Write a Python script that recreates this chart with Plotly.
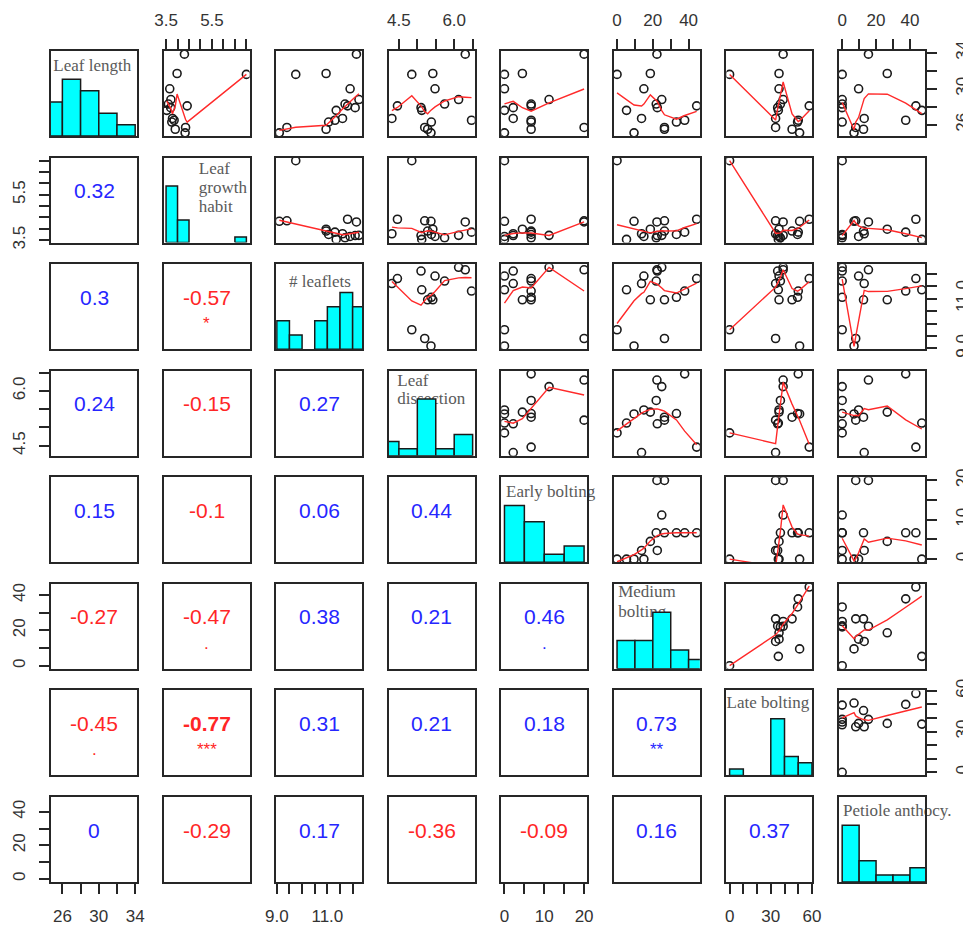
import numpy as np
import plotly.graph_objects as go

# ---------------- data (15 accessions) ----------------
var_names = ["Leaf length", "Leaf growth habit", "# leaflets", "Leaf dissection",
             "Early bolting", "Medium bolting", "Late bolting", "Petiole anthocy."]

leaf_length = [33.85, 31.7, 31.6, 30.0, 28.8, 28.1, 28.3, 27.6, 26.7, 26.5, 26.3, 25.7, 25.5, 25.1, 27.9]
growth_habit = [4.3, 3.98, 7.0, 3.66, 3.71, 4.42, 3.6, 3.53, 3.78, 3.85, 3.75, 4.35, 3.9, 4.33, 3.7]
leaflets = [12.15, 10.95, 9.75, 11.9, 12.25, 11.8, 11.7, 11.35, 11.6, 11.3, 11.05, 9.4, 10.95, 9.1, 12.1]
dissection = [6.3, 5.42, 4.85, 5.48, 6.12, 4.46, 5.74, 5.12, 4.31, 6.47, 5.38, 5.2, 5.28, 5.37, 5.1]
early_bolting = [20, 4.5, 0, 0, 11.2, 6.7, 6.7, 0, 2.2, 6.7, 6.7, 20, 6.7, 0, 2.2]
medium_bolting = [22.3, 18.6, 0, 15, 25, 44.5, 21.9, 5.3, 13.7, 37.8, 33.2, 26.5, 26.5, 9.5, 22.5]
late_bolting = [39, 36, 0, 36, 39, 58, 37, 35.5, 33.5, 50, 49.5, 33.5, 45.5, 51, 35]
petiole_anthocy = [15.5, 26.6, 0, 9.7, 0, 43.5, 0, 47, 13, 37.5, 0, 8, 12.6, 7, 0]

variables = [leaf_length, growth_habit, leaflets, dissection,
             early_bolting, medium_bolting, late_bolting, petiole_anthocy]

# histogram break points
hist_breaks = [
    [24, 26, 28, 30, 32, 34],
    [3.5, 4.0, 4.5, 5.0, 5.5, 6.0, 6.5, 7.0],
    [9.0, 9.5, 10.0, 10.5, 11.0, 11.5, 12.0, 12.5],
    [4.0, 4.5, 5.0, 5.5, 6.0, 6.5],
    [0, 5, 10, 15, 20],
    [0, 10, 20, 30, 40, 50],
    [0, 10, 20, 30, 40, 50, 60],
    [0, 10, 20, 30, 40, 50],
]

# axis ticks and labels
tick_vals = [
    [26, 28, 30, 32, 34],
    [3.5, 4.0, 4.5, 5.0, 5.5, 6.0, 6.5, 7.0],
    [9.0, 9.5, 10.0, 10.5, 11.0, 11.5, 12.0],
    [4.5, 5.0, 5.5, 6.0, 6.5],
    [0, 5, 10, 15, 20],
    [0, 10, 20, 30, 40],
    [0, 10, 20, 30, 40, 50, 60],
    [0, 10, 20, 30, 40],
]
tick_text = [
    ["26", "", "30", "", "34"],
    ["3.5", "", "", "", "5.5", "", "", ""],
    ["9.0", "", "", "", "11.0", "", ""],
    ["4.5", "", "", "6.0", ""],
    ["0", "", "10", "", "20"],
    ["0", "", "20", "", "40"],
    ["0", "", "", "30", "", "", "60"],
    ["0", "", "20", "", "40"],
]

# lower-triangle correlations and significance marks
corr_values = [
    [],
    [0.32],
    [0.3, -0.57],
    [0.24, -0.15, 0.27],
    [0.15, -0.1, 0.06, 0.44],
    [-0.27, -0.47, 0.38, 0.21, 0.46],
    [-0.45, -0.77, 0.31, 0.21, 0.18, 0.73],
    [0, -0.29, 0.17, -0.36, -0.09, 0.16, 0.37],
]
corr_marks = [
    [],
    [""],
    ["", "*"],
    ["", "", ""],
    ["", "", "", ""],
    ["", ".", "", "", "."],
    [".", "***", "", "", "", "**"],
    ["", "", "", "", "", "", ""],
]

# diagonal label lines
diag_lines = [
    ["Leaf length"],
    ["Leaf", "growth", "habit"],
    ["# leaflets"],
    ["Leaf", "dissection"],
    ["Early bolting"],
    ["Medium", "bolting"],
    ["Late bolting"],
    ["Petiole anthocy."],
]


# ---------------- R's lowess (clowess) ----------------
def r_lowess(xin, yin, f=2 / 3, nsteps=3):
    x = np.asarray(xin, float)
    y = np.asarray(yin, float)
    o = np.argsort(x, kind="stable")
    x = x[o]
    y = y[o]
    n = len(x)
    delta = 0.01 * (x[-1] - x[0])
    ns = max(2, min(n, int(f * n + 1e-7)))
    ys = np.zeros(n)
    rw = np.ones(n)
    xr = x[-1] - x[0]

    def lowest(xs, nleft, nright, userw, rwt):
        h = max(xs - x[nleft], x[nright] - xs)
        h9 = 0.999 * h
        h1 = 0.001 * h
        w = np.zeros(n)
        a = 0.0
        j = nleft
        while j < n:
            r = abs(x[j] - xs)
            if r <= h9:
                if r <= h1:
                    w[j] = 1.0
                else:
                    w[j] = (1 - (r / h) ** 3) ** 3
                if userw:
                    w[j] *= rwt[j]
                a += w[j]
            elif x[j] > xs:
                break
            j += 1
        nrt = j - 1
        if a <= 0:
            return None
        sl = slice(nleft, nrt + 1)
        w[sl] /= a
        if h > 0:
            aa = np.sum(w[sl] * x[sl])
            b = xs - aa
            c = np.sum(w[sl] * (x[sl] - aa) ** 2)
            if np.sqrt(c) > 0.001 * xr:
                b /= c
                w[sl] *= (b * (x[sl] - aa) + 1)
        return float(np.sum(w[sl] * y[sl]))

    it = 1
    while it <= nsteps + 1:
        nleft, nright, last, i = 0, ns - 1, -1, 0
        while True:
            if nright < n - 1:
                d1 = x[i] - x[nleft]
                d2 = x[nright + 1] - x[i]
                if d1 > d2:
                    nleft += 1
                    nright += 1
                    continue
            v = lowest(x[i], nleft, nright, it > 1, rw)
            ys[i] = y[i] if v is None else v
            if last < i - 1:
                denom = x[i] - x[last]
                for j in range(last + 1, i):
                    alpha = (x[j] - x[last]) / denom
                    ys[j] = alpha * ys[i] + (1 - alpha) * ys[last]
            last = i
            cut = x[last] + delta
            i = last + 1
            while i < n:
                if x[i] > cut:
                    break
                if x[i] == x[last]:
                    ys[i] = ys[last]
                    last = i
                i += 1
            i = max(last + 1, i - 1)
            if last >= n - 1:
                break
        res = y - ys
        sc = np.mean(np.abs(res))
        if it > nsteps:
            break
        ar = np.abs(res)
        srt = np.sort(ar)
        m1 = n // 2
        if n % 2 == 0:
            cmad = 3 * (srt[m1] + srt[n - m1 - 1])
        else:
            cmad = 6 * srt[m1]
        if cmad < 1e-7 * sc:
            break
        c9, c1 = 0.999 * cmad, 0.001 * cmad
        rw = np.where(ar <= c1, 1.0, np.where(ar <= c9, (1 - (ar / cmad) ** 2) ** 2, 0.0))
        it += 1
    return x, ys


def hist_counts(vals, breaks):
    v = np.asarray(vals, float)
    counts = []
    for b in range(len(breaks) - 1):
        lo, hi = breaks[b], breaks[b + 1]
        if b == 0:
            counts.append(int(np.sum((v >= lo) & (v <= hi))))
        else:
            counts.append(int(np.sum((v > lo) & (v <= hi))))
    return counts


# ---------------- layout geometry ----------------
PAGE_W, PAGE_H = 971, 926
OFF = 8                      # default page margin of the html body
W, H = PAGE_W - OFF, PAGE_H - OFF
NV = 8
PW, PH = 86, 85
X0, DX = 51 - OFF, 112.57
Y0, DY = 51 - OFF, 106.57

ranges = []
for v in variables:
    lo, hi = min(v), max(v)
    d = hi - lo
    ranges.append([lo - 0.04 * d, hi + 0.04 * d])

FRAME = "#262626"
TICKFONT = dict(family="Liberation Sans, Arial", size=17, color="#333333")
SERIF = "Liberation Serif, Times New Roman, serif"
SANS = "Liberation Sans, Arial, sans-serif"
BLUE = "#2626ff"
RED = "#ff2626"

fig = go.Figure()
layout = dict(
    width=W, height=H, margin=dict(l=0, r=0, t=0, b=0, autoexpand=False),
    paper_bgcolor="white", plot_bgcolor="white", showlegend=False,
)
annotations = []


def axis_names(k):
    return ("x" if k == 1 else f"x{k}"), ("y" if k == 1 else f"y{k}")


label_pos = [
    # (xfrac, textposition, [yfracs])
    (0.48, "middle center", [0.815]),
    (0.41, "middle right", [0.854, 0.63, 0.41]),
    (0.51, "middle center", [0.78]),
    (0.1, "middle right", [0.867, 0.656]),
    (0.055, "middle right", [0.815]),
    (0.05, "middle right", [0.893, 0.658]),
    (0.002, "middle right", [0.84]),
    (0.047, "middle right", [0.824]),
]

for r in range(NV):
    for c in range(NV):
        k = r * NV + c + 1
        xr_, yr_ = axis_names(k)
        x0 = (X0 + c * DX) / W
        x1 = (X0 + c * DX + PW) / W
        ytop = Y0 + r * DY
        ybot = ytop + PH
        yd = [1 - ybot / H, 1 - ytop / H]
        xrange_ = ranges[c]
        yrange_ = [0, 1.5] if r == c else ranges[r]
        xax = dict(domain=[x0, x1], anchor=yr_, range=xrange_, showline=True, mirror=True,
                   linecolor=FRAME, linewidth=1.7, showgrid=False, zeroline=False,
                   showticklabels=False, ticks="", fixedrange=True, automargin=False)
        yax = dict(domain=yd, anchor=xr_, range=yrange_, showline=True, mirror=True,
                   linecolor=FRAME, linewidth=1.7, showgrid=False, zeroline=False,
                   showticklabels=False, ticks="", fixedrange=True, automargin=False)
        tk = dict(ticks="outside", ticklen=10, tickwidth=1.5, tickcolor=FRAME,
                  showticklabels=True, tickfont=TICKFONT)
        if r == 0 and c % 2 == 1:
            xax.update(tk, side="top", tickvals=tick_vals[c], ticktext=tick_text[c],
                       ticklabelstandoff=6)
        if r == NV - 1 and c % 2 == 0:
            xax.update(tk, side="bottom", tickvals=tick_vals[c], ticktext=tick_text[c],
                       ticklabelstandoff=8)
        if c == 0 and r % 2 == 1:
            yax.update(tk, side="left", tickvals=tick_vals[r], ticktext=tick_text[r],
                       tickangle=-90, ticklabelstandoff=7)
        if c == NV - 1 and r % 2 == 0:
            yax.update(tk, side="right", tickvals=tick_vals[r], ticktext=tick_text[r],
                       tickangle=-90, ticklabelstandoff=11)
        layout["xaxis" if k == 1 else f"xaxis{k}"] = xax
        layout["yaxis" if k == 1 else f"yaxis{k}"] = yax

        if r < c:
            xv = variables[c]
            yv = variables[r]
            fig.add_trace(go.Scatter(
                x=xv, y=yv, xaxis=xr_, yaxis=yr_, mode="markers",
                marker=dict(symbol="circle-open", size=8, color="#1a1a1a",
                            line=dict(width=1.6, color="#1a1a1a")),
                hoverinfo="skip"))
            lx, ly = r_lowess(xv, yv)
            fig.add_trace(go.Scatter(
                x=lx, y=ly, xaxis=xr_, yaxis=yr_, mode="lines",
                line=dict(color="#ff2a2a", width=1.4), hoverinfo="skip"))
        elif r == c:
            lo, hi = xrange_
            xf, pos, yfs = label_pos[r]
            for line, yf in zip(diag_lines[r], yfs):
                fig.add_trace(go.Scatter(
                    x=[lo + xf * (hi - lo)], y=[yf * 1.5], xaxis=xr_, yaxis=yr_,
                    mode="text", text=[line], textposition=pos, cliponaxis=False,
                    textfont=dict(family=SERIF, size=17, color="#5a5a5a"),
                    hoverinfo="skip"))
            br = hist_breaks[r]
            cnt = hist_counts(variables[r], br)
            mx = max(cnt)
            for b in range(len(cnt)):
                if cnt[b] == 0:
                    continue
                hgt = cnt[b] / mx
                fig.add_trace(go.Scatter(
                    x=[br[b], br[b + 1], br[b + 1], br[b], br[b]],
                    y=[0, 0, hgt, hgt, 0], xaxis=xr_, yaxis=yr_, mode="lines",
                    fill="toself", fillcolor="#00ffff",
                    line=dict(color="#1a1a1a", width=1.5), hoverinfo="skip"))
        else:
            # invisible anchor so the subplot frame is drawn
            fig.add_trace(go.Scatter(
                x=[sum(xrange_) / 2], y=[sum(yrange_) / 2], xaxis=xr_, yaxis=yr_,
                mode="markers", marker=dict(opacity=0, size=1), hoverinfo="skip"))
            val = corr_values[r][c]
            mark = corr_marks[r][c]
            col = RED if val < 0 else BLUE
            txt = f"{val:g}"
            annotations.append(dict(
                xref=f"{xr_} domain", yref=f"{yr_} domain", x=0.5, y=0.61,
                text=f"<b>{txt}</b>" if mark == "***" else txt, showarrow=False,
                xanchor="center", yanchor="middle",
                font=dict(family=SANS, size=21, color=col)))
            if mark:
                annotations.append(dict(
                    xref=f"{xr_} domain", yref=f"{yr_} domain", x=0.5, y=0.30,
                    text=mark, showarrow=False, xanchor="center", yanchor="middle",
                    font=dict(family=SANS, size=17, color=col)))

layout["annotations"] = annotations
fig.update_layout(**layout)
fig.write_html("out.html")
